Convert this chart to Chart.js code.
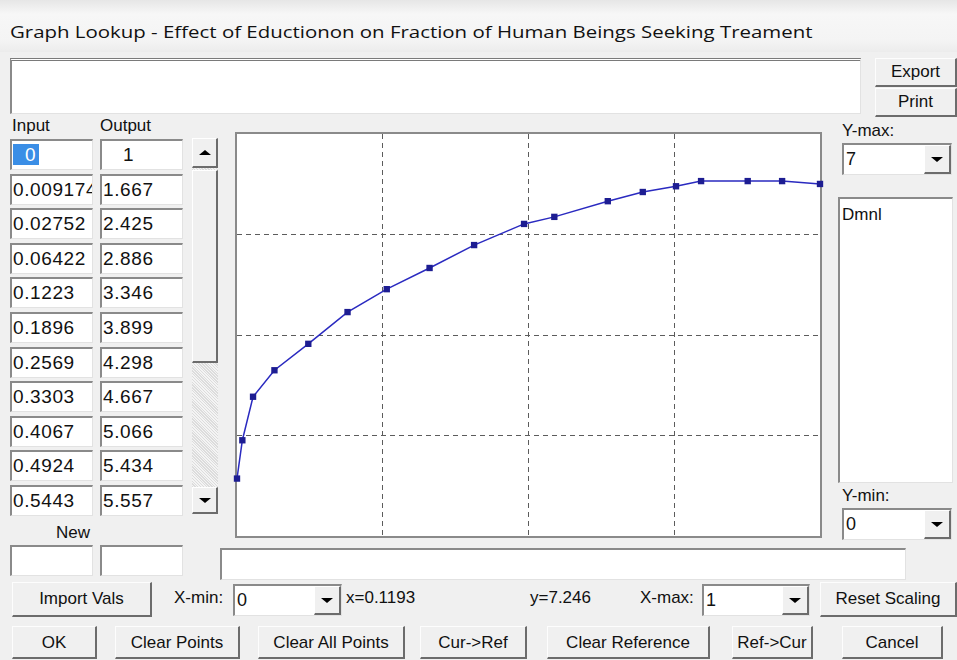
<!DOCTYPE html>
<html>
<head>
<meta charset="utf-8">
<script src="https://cdn.jsdelivr.net/npm/chart.js@4"></script>
<style>
  html, body { margin: 0; padding: 0; }
  body {
    width: 957px; height: 660px; overflow: hidden; position: relative;
    background: #f0f0f0; font-family: "Liberation Sans", Arial, sans-serif; color: #111;
  }
  .abs { position: absolute; box-sizing: border-box; }
  .titlebar {
    left: 0; top: 0; width: 957px; height: 52px;
    background: linear-gradient(#e6e6e6 0px, #f7f7f7 14px, #f4f4f4 40px, #ececec 52px);
  }
  .title {
    position: absolute; left: 10px; top: 20px; white-space: nowrap;
    font-family: "Open Sans", "Noto Sans", sans-serif; font-size: 16.5px; color: #111;
    transform-origin: 0 0;
  }
  .sunken {
    background: #fff;
    border-top: 2px solid #8a8a8a; border-left: 2px solid #8a8a8a;
    border-right: 1px solid #e2e2e2; border-bottom: 1px solid #e2e2e2;
  }
  .cell {
    overflow: hidden; white-space: nowrap; font-size: 19px; line-height: 27px; padding-left: 1px;
    letter-spacing: 0.6px;
  }
  .btn {
    background: #f0f0f0; text-align: center; font-size: 17px; white-space: nowrap;
    border-top: 1px solid #fdfdfd; border-left: 1px solid #fdfdfd;
    border-right: 2px solid #6c6c6c; border-bottom: 2px solid #6c6c6c;
  }
  .lbl { font-size: 17px; white-space: nowrap; }
  .arrowbtn {
    background: #f0f0f0;
    border-top: 1px solid #fff; border-left: 1px solid #fff;
    border-right: 2px solid #6c6c6c; border-bottom: 2px solid #6c6c6c;
  }
  .tri-down, .tri-up { position: absolute; left: 50%; top: 50%; width: 0; height: 0; }
  .tri-down { margin: -2px 0 0 -6px; border-left: 6px solid transparent; border-right: 6px solid transparent; border-top: 5px solid #000; }
  .tri-up { margin: -3px 0 0 -6px; border-left: 6px solid transparent; border-right: 6px solid transparent; border-bottom: 5px solid #000; }
  .track {
    background-color: #e6e6e6;
    background-image: repeating-linear-gradient(45deg, #f4f4f4 0 1px, #dcdcdc 1px 2px);
  }
  .sel { background: #3a8ee6; color: #fff; padding: 0 3px 0 12px; }
  #plotCanvas { position: absolute; left: 227px; top: 124px; }
</style>
</head>
<body>

<div class="abs titlebar"><span class="title" id="judul">Graph Lookup - Effect of Eductionon on Fraction of Human Beings Seeking Treament</span></div>

<!-- kotak teks atas + tombol Export / Print -->
<div class="abs sunken" style="left:10px; top:58px; width:851px; height:56px; border-top:3px double #7a7a7a;"></div>
<div class="abs btn" style="left:875px; top:58px; width:82px; height:29px; line-height:26px;">Export</div>
<div class="abs btn" style="left:875px; top:88px; width:82px; height:29px; line-height:26px;">Print</div>

<div class="abs lbl" style="left:12px; top:116px;">Input</div>
<div class="abs lbl" style="left:100px; top:116px;">Output</div>

<div id="tabel"></div>

<!-- scrollbar tabel -->
<div class="abs track" style="left:192px; top:138px; width:26px; height:376px;"></div>
<div class="abs arrowbtn" style="left:192px; top:138px; width:26px; height:30px;"><span class="tri-up"></span></div>
<div class="abs arrowbtn" style="left:192px; top:170px; width:26px; height:193px;"></div>
<div class="abs arrowbtn" style="left:192px; top:487px; width:26px; height:27px;"><span class="tri-down"></span></div>

<div class="abs lbl" style="left:56px; top:523px;">New</div>
<div class="abs sunken" style="left:10px; top:545px; width:83px; height:31px;"></div>
<div class="abs sunken" style="left:100px; top:545px; width:83px; height:31px;"></div>
<div class="abs sunken" style="left:220px; top:548px; width:686px; height:32px;"></div>

<!-- panel kanan -->
<div class="abs lbl" style="left:842px; top:121px;">Y-max:</div>
<div class="abs sunken" style="left:842px; top:143px; width:110px; height:32px;">
  <div class="abs cell" style="left:1px; top:1px; font-size:18px;">7</div>
  <div class="abs arrowbtn" style="right:0; top:0; width:27px; height:29px;"><span class="tri-down"></span></div>
</div>
<div class="abs sunken" style="left:838px; top:197px; width:115px; height:286px;">
  <div class="abs lbl" style="left:2px; top:6px;">Dmnl</div>
</div>
<div class="abs lbl" style="left:842px; top:486px;">Y-min:</div>
<div class="abs sunken" style="left:842px; top:508px; width:110px; height:32px;">
  <div class="abs cell" style="left:1px; top:1px; font-size:18px;">0</div>
  <div class="abs arrowbtn" style="right:0; top:0; width:27px; height:29px;"><span class="tri-down"></span></div>
</div>

<!-- baris kontrol bawah -->
<div class="abs btn" style="left:12px; top:582px; width:140px; height:35px; line-height:32px;">Import Vals</div>
<div class="abs lbl" style="left:174px; top:588px;">X-min:</div>
<div class="abs sunken" style="left:233px; top:584px; width:109px; height:32px;">
  <div class="abs cell" style="left:1px; top:1px; font-size:18px;">0</div>
  <div class="abs arrowbtn" style="right:0; top:0; width:27px; height:29px;"><span class="tri-down"></span></div>
</div>
<div class="abs lbl" style="left:346px; top:588px;">x=0.1193</div>
<div class="abs lbl" style="left:530px; top:588px;">y=7.246</div>
<div class="abs lbl" style="left:640px; top:588px;">X-max:</div>
<div class="abs sunken" style="left:702px; top:584px; width:108px; height:32px;">
  <div class="abs cell" style="left:1px; top:1px; font-size:18px;">1</div>
  <div class="abs arrowbtn" style="right:0; top:0; width:27px; height:29px;"><span class="tri-down"></span></div>
</div>
<div class="abs btn" style="left:820px; top:582px; width:137px; height:35px; line-height:32px;">Reset Scaling</div>

<div class="abs btn" style="left:12px; top:626px; width:85px; height:33px; line-height:31px;">OK</div>
<div class="abs btn" style="left:115px; top:626px; width:125px; height:33px; line-height:31px;">Clear Points</div>
<div class="abs btn" style="left:258px; top:626px; width:147px; height:33px; line-height:31px;">Clear All Points</div>
<div class="abs btn" style="left:420px; top:626px; width:107px; height:33px; line-height:31px;">Cur-&gt;Ref</div>
<div class="abs btn" style="left:547px; top:626px; width:163px; height:33px; line-height:31px;">Clear Reference</div>
<div class="abs btn" style="left:732px; top:626px; width:81px; height:33px; line-height:31px;">Ref-&gt;Cur</div>
<div class="abs btn" style="left:842px; top:626px; width:101px; height:33px; line-height:31px;">Cancel</div>

<canvas id="plotCanvas" width="603" height="422"></canvas>

<script>
/* =====================================
   DATA LOOKUP (input -> output)
===================================== */
const inputVals  = [0, 0.009174, 0.02752, 0.06422, 0.1223, 0.1896, 0.2569, 0.3303, 0.4067, 0.4924, 0.5443,
                    0.636, 0.696, 0.753, 0.796, 0.876, 0.935, 1];
const outputVals = [1, 1.667, 2.425, 2.886, 3.346, 3.899, 4.298, 4.667, 5.066, 5.434, 5.557,
                    5.83, 5.99, 6.09, 6.18, 6.18, 6.18, 6.13];

const xMin = 0, xMax = 1;
const yMin = 0, yMax = 7;
const barisTampil = 11; // jumlah baris yang kelihatan di tabel

/* =====================================
   JUDUL: paskan lebarnya
===================================== */
const judul = document.getElementById("judul");
judul.style.transform = "scaleX(" + (803 / judul.offsetWidth) + ")";

/* =====================================
   TABEL INPUT / OUTPUT
===================================== */
let isiTabel = "";
for (let i = 0; i < barisTampil; i++) {
    const top = Math.round(139 + i * 34.6);
    let teksIn = String(inputVals[i]);
    let teksOut = String(outputVals[i]);
    if (i === 0) {
        teksIn = `<span class="sel">${teksIn}</span>`;
        teksOut = `<span style="padding-left:20px;">${teksOut}</span>`;
    }
    isiTabel += `
      <div class="abs sunken cell" style="left:10px; top:${top}px; width:83px; height:31px;">${teksIn}</div>
      <div class="abs sunken cell" style="left:100px; top:${top}px; width:83px; height:31px;">${teksOut}</div>`;
}
document.getElementById("tabel").innerHTML = isiTabel;

/* =====================================
   GRAFIK
===================================== */
const bingkaiPlot = {
    id: "bingkaiPlot",
    beforeDraw(chart) {
        const a = chart.chartArea, c = chart.ctx;
        c.save();
        c.fillStyle = "#ffffff";
        c.fillRect(a.left, a.top, a.right - a.left, a.bottom - a.top);
        c.restore();
    },
    beforeDatasetsDraw(chart) {
        const a = chart.chartArea, c = chart.ctx;
        c.save();
        c.strokeStyle = "#8a8a8a";
        c.lineWidth = 2;
        c.strokeRect(a.left - 1, a.top - 1, a.right - a.left + 2, a.bottom - a.top + 2);
        c.restore();
    }
};

function warnaGrid(min, max) {
    return ctx => (ctx.tick && (ctx.tick.value === min || ctx.tick.value === max)) ? "rgba(0,0,0,0)" : "#5c5c5c";
}

new Chart(document.getElementById("plotCanvas"), {
    type: "line",
    data: {
        datasets: [{
            data: inputVals.map((x, i) => ({ x: x, y: outputVals[i] })),
            borderColor: "#2a2ac0",
            borderWidth: 1.5,
            tension: 0,
            pointStyle: "rect",
            pointRadius: 4.5,
            pointBackgroundColor: "#1d1d92",
            pointBorderColor: "#1d1d92",
            pointBorderWidth: 0,
            clip: false
        }]
    },
    options: {
        responsive: false,
        animation: false,
        layout: { padding: 10, autoPadding: false },
        plugins: { legend: { display: false }, tooltip: { enabled: false } },
        scales: {
            x: {
                type: "linear", min: xMin, max: xMax,
                ticks: { display: false, stepSize: (xMax - xMin) / 4 },
                grid: { color: warnaGrid(xMin, xMax), drawTicks: false, lineWidth: 1 },
                border: { display: false, dash: [5, 4] }
            },
            y: {
                type: "linear", min: yMin, max: yMax,
                ticks: { display: false, stepSize: (yMax - yMin) / 4 },
                grid: { color: warnaGrid(yMin, yMax), drawTicks: false, lineWidth: 1 },
                border: { display: false, dash: [5, 4] }
            }
        }
    },
    plugins: [bingkaiPlot]
});
</script>
</body>
</html>
